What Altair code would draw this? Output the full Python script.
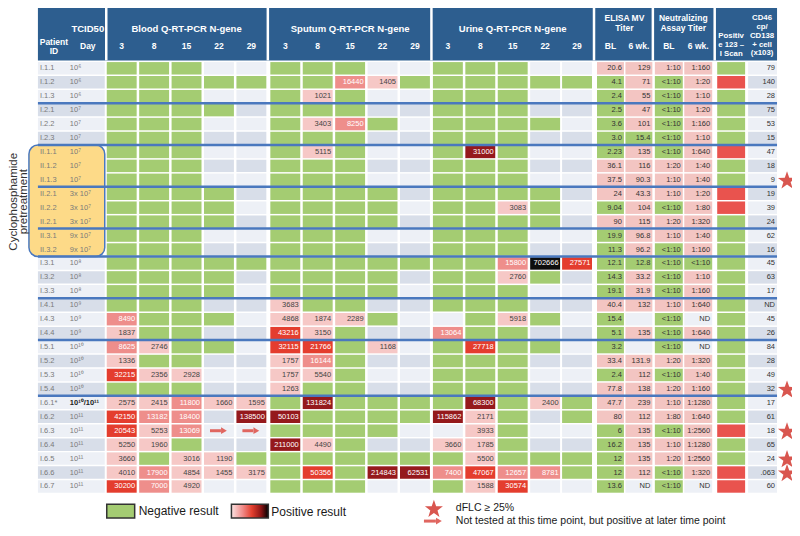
import altair as alt
import pandas as pd

G, E, A = "G", "", "A"   # negative (green), not tested, arrow (tested later)

patients = ["I.1.1", "I.1.2", "I.1.3", "I.2.1", "I.2.2", "I.2.3",
            "II.1.1", "II.1.2", "II.1.3", "II.2.1", "II.2.2", "II.2.1",
            "II.3.1", "II.3.2", "I.3.1", "I.3.2", "I.3.3", "I.4.1", "I.4.3",
            "I.4.4", "I.5.1", "I.5.2", "I.5.3", "I.5.4", "I.6.1*", "I.6.2",
            "I.6.3", "I.6.4", "I.6.5", "I.6.6", "I.6.7"]
doses = ["10⁶", "10⁶", "10⁶", "10⁷", "10⁷", "10⁷",
         "10⁷", "10⁷", "10⁷", "3x 10⁷", "3x 10⁷", "3x 10⁷",
         "9x 10⁷", "9x 10⁷", "10⁸", "10⁸", "10⁸", "10⁹", "10⁹",
         "10⁹", "10¹⁰", "10¹⁰", "10¹⁰", "10¹⁰", "10¹⁰/10¹¹", "10¹¹",
         "10¹¹", "10¹¹", "10¹¹", "10¹¹", "10¹¹"]
timepoints = ["3", "8", "15", "22", "29"]

blood = [
    [G, G, G, E, E], [G, G, G, G, G], [G, G, G, E, E], [G, G, G, G, E],
    [G, G, G, E, E], [G, G, G, E, E], [G, G, G, E, E], [G, G, G, E, E],
    [G, G, G, E, E], [G, G, G, G, E], [G, G, G, G, E], [G, G, G, G, E],
    [G, G, G, E, E], [G, G, G, E, E], [G, G, G, G, G], [G, G, G, G, E],
    [G, G, G, G, E], [G, G, G, E, E], ["8490", G, G, G, E],
    ["1837", G, G, E, E], ["8625", "2746", G, G, E], ["1336", G, G, E, E],
    ["32215", "2356", "2928", E, E], [G, G, G, E, E],
    ["2575", "2415", "11800", "1660", "1595"],
    ["42150", "13182", "18400", E, "138500"],
    ["20543", "5253", "13069", A, A], ["5250", "1960", G, E, E],
    ["3660", G, "3016", "1190", G], ["4010", "17900", "4854", "1455", "3175"],
    ["30200", "7000", "4920", E, E],
]
sputum = [
    [G, G, G, E, E], [G, G, "16440", "1405", G], [G, "1021", G, E, E],
    [G, G, G, E, E], [G, "3403", "8250", G, E], [G, G, G, E, E],
    [G, "5115", G, E, E], [G, G, G, E, E], [G, G, G, E, E], [G, G, G, G, E],
    [G, G, G, G, E], [G, G, G, G, E], [G, G, G, E, E], [G, G, G, E, E],
    [G, G, G, G, G], [G, G, G, G, E], [G, G, G, G, E], ["3683", G, G, E, E],
    ["4868", "1874", "2289", G, E], ["43216", "3150", G, E, E],
    ["32115", "21766", G, "1168", E], ["1757", "16144", G, E, E],
    ["1757", "5540", G, E, E], ["1263", G, G, E, E], [G, "131824", G, G, G],
    ["50103", G, G, G, G], [G, G, G, G, E], ["211000", "4490", G, E, E],
    [G, G, G, G, G], [G, "50356", G, "214843", "62531"], [G, G, G, E, E],
]
urine = [
    [G, G, G, E, E], [G, G, G, G, G], [G, G, G, E, E], [G, G, G, E, E],
    [G, G, G, G, E], [G, G, G, E, E], [G, "31000", G, E, E], [G, G, G, E, E],
    [G, G, G, E, E], [G, G, G, G, E], [G, G, "3083", G, E], [G, G, G, G, E],
    [G, G, G, E, E], [G, G, G, E, E], [G, G, "15800", "702666", "27571"],
    [G, G, "2760", G, E], [G, G, G, E, E], [G, G, G, E, E],
    [E, G, "5918", G, E], ["13064", G, G, E, E], [G, "27718", G, G, E],
    [G, G, G, E, E], [G, G, G, E, E], [G, G, G, E, E],
    [G, "68300", G, "2400", G], ["115862", "2171", G, E, G],
    [E, "3933", G, E, E], ["3660", "1785", G, E, E], [G, "5500", G, G, G],
    ["7400", "47067", "12657", "8781", G], [G, "1588", "30574", E, E],
]
elisa_bl = ["20.6", "4.1", "2.4", "2.5", "3.6", "3.0", "2.23", "36.1", "37.5",
            "24", "9.04", "90", "19.9", "11.3", "12.1", "14.3", "19.1", "40.4",
            "15.4", "5.1", "3.2", "33.4", "2.4", "77.8", "47.7", "80", "6",
            "16.2", "12", "12", "13.6"]
elisa_6wk = ["129", "71", "55", "47", "101", "15.4", "135", "116", "90.3",
             "43.3", "104", "115", "96.8", "96.2", "12.8", "33.2", "31.9",
             "132", "", "135", "", "131.9", "112", "138", "239", "112", "135",
             "135", "135", "112", "ND"]
neut_bl = ["1:10", "<1:10", "<1:10", "<1:10", "<1:10", "<1:10", "<1:10",
           "1:20", "1:10", "1:10", "<1:10", "1:20", "1:10", "<1:10", "<1:10",
           "<1:10", "<1:10", "1:10", "<1:10", "<1:10", "<1:10", "1:20",
           "<1:10", "1:20", "1:10", "1:80", "<1:10", "1:10", "1:20", "<1:10",
           "<1:10"]
neut_6wk = ["1:160", "1:20", "1:10", "1:20", "1:160", "1:10", "1:640", "1:40",
            "1:40", "1:20", "1:80", "1:320", "1:40", "1:160", "<1:10", "1:10",
            "1:160", "1:640", "ND", "1:640", "ND", "1:320", "1:40", "1:160",
            "1:1280", "1:640", "1:2560", "1:1280", "1:2560", "1:320", "ND"]
scan_positive = [0, 1, 0, 0, 0, 0, 1, 0, 0, 1, 1, 0, 0, 0, 0, 0, 0, 0, 0, 0,
                 0, 0, 0, 0, 0, 0, 1, 0, 0, 1, 1]
cd46 = ["79", "140", "28", "75", "53", "15", "47", "18", "9", "19", "39", "24",
        "62", "16", "45", "63", "17", "ND", "45", "26", "84", "28", "49", "32",
        "17", "61", "18", "65", "24", ".063", "60"]
dflc_rows = [8, 23, 26, 28, 29]
group_ends = [2, 5, 8, 11, 13, 16, 19, 23]
level_override = {"31000": 4, "50103": 4}

# ---------------- style / layout ----------------
FONT = "Liberation Sans"
HEAD = "#2D5E8F"
GREEN = "#A4CC72"
PINK = "#F3C5C2"
SHADE = ["#EDF0F6", "#D8DEE9"]
LEVEL = {1: "#F6C8C6", 2: "#EE8E8B", 3: "#E43D2E", 4: "#95191C", 5: "#0D0D0D"}
SCAN_RED = "#E9534E"
YELLOW = "#FDDA88"
BLUE = "#4A78BE"
STARC = "#D9564F"
STAR = ("M0,-1L0.235,-0.324L0.951,-0.309L0.38,0.124L0.588,0.809L0,0.4"
        "L-0.588,0.809L-0.38,0.124L-0.951,-0.309L-0.235,-0.324Z")

XS = alt.Scale(domain=[6, 792], nice=False, zero=False)
YS = alt.Scale(domain=[4, 530], nice=False, zero=False, reverse=True)
Y0, PITCH, CH = 65.0, 14.1, 12.6
BLOCKS = {"blood": [120, 152.5, 185, 217.5, 250],
          "sputum": [284, 316.5, 349, 381.5, 414],
          "urine": [447, 479.5, 512, 544.5, 576.5]}
CW = 30


def level(v):
    if v in level_override:
        return level_override[v]
    n = int(v)
    if n < 6500:
        return 1
    if n < 20000:
        return 2
    if n < 60000:
        return 3
    if n < 700000:
        return 4
    return 5


def isnum(v):
    try:
        float(v)
        return True
    except ValueError:
        return False


rects, ctext, ptext, arrows, stars = [], [], [], [], []


def rect(x1, x2, y1, y2, fill):
    rects.append(dict(x=x1, x2=x2, y=y1, y2=y2, fill=fill))


for i in range(len(patients)):
    yc = Y0 + i * PITCH
    y1, y2 = yc - CH / 2, yc + CH / 2
    shade = SHADE[i % 2]
    if not patients[i].startswith("II"):
        rect(36, 103, y1, y2, shade)
    ptext.append(dict(x=38, y=yc, t=patients[i]))
    if i != 24:
        ptext.append(dict(x=68, y=yc, t=doses[i]))
    for key, rows in (("blood", blood), ("sputum", sputum), ("urine", urine)):
        for j, v in enumerate(rows[i]):
            xc = BLOCKS[key][j]
            if v == G:
                fill = GREEN
            elif v in (E, A):
                fill = shade
                if v == A:
                    arrows.append(dict(x=xc - 9, x2=xc + 2, xt=xc + 5, y=yc))
            else:
                lv = level(v)
                fill = LEVEL[lv]
                ctext.append(dict(x=xc + CW / 2 - 1.5, y=yc, t=v,
                                  c="#444444" if lv == 1 else "#FFFFFF"))
            rect(xc - CW / 2, xc + CW / 2, y1, y2, fill)
    for xc, w, v in ((610, 27, elisa_bl[i]), (638.5, 27, elisa_6wk[i])):
        fill = (PINK if float(v) >= 20 else GREEN) if isnum(v) else shade
        rect(xc - w / 2, xc + w / 2, y1, y2, fill)
        ctext.append(dict(x=xc + w / 2 - 2, y=yc, t=v, c="#333333"))
    for xc, w, v in ((668.5, 28, neut_bl[i]), (698, 28, neut_6wk[i])):
        fill = GREEN if v == "<1:10" else (shade if v in ("ND", "") else PINK)
        rect(xc - w / 2, xc + w / 2, y1, y2, fill)
        ctext.append(dict(x=xc + w / 2 - 2, y=yc, t=v, c="#333333"))
    rect(717, 745, y1, y2, SCAN_RED if scan_positive[i] else GREEN)
    rect(748, 777, y1, y2, shade)
    ctext.append(dict(x=775, y=yc, t=cd46[i], c="#333333"))
    if i in dflc_rows:
        stars.append(dict(x=787, y=yc + 1))

# legend items
rects_df = pd.DataFrame(rects)
legend_box = pd.DataFrame([dict(x=105, x2=133, y=506, y2=520)])
grad_box = pd.DataFrame([dict(x=230, x2=267, y=506, y2=520)])
legend_txt = pd.DataFrame([
    dict(x=137, y=513, t="Negative result"),
    dict(x=270, y=514, t="Positive result"),
])
legend_txt2 = pd.DataFrame([
    dict(x=455, y=510, t="dFLC ≥ 25%"),
    dict(x=455, y=523, t="Not tested at this time point, but positive at later time point"),
])
stars.append(dict(x=433, y=511))
arrows.append(dict(x=423, x2=435, xt=438, y=523))

# header
head_rect = pd.DataFrame([dict(x=36, x2=777, y=4, y2=57)])
seps = pd.DataFrame([dict(x=v, y=4, y2=57) for v in [104.5, 266.5, 430.5, 593.5, 652.5, 714.5]])
head_titles = [dict(x=86, y=25, t="TCID50"),
               dict(x=185, y=25, t="Blood Q-RT-PCR N-gene"),
               dict(x=349, y=25, t="Sputum Q-RT-PCR N-gene"),
               dict(x=512, y=25, t="Urine Q-RT-PCR N-gene")]
head_mid = [dict(x=624, y=14, t="ELISA MV"), dict(x=624, y=24, t="Titer"),
            dict(x=683, y=14, t="Neutralizing"), dict(x=683, y=24, t="Assay Titer"),
            dict(x=52, y=38, t="Patient"), dict(x=52, y=47.5, t="ID"),
            dict(x=86, y=42, t="Day"),
            dict(x=610, y=42, t="BL"), dict(x=638.5, y=42, t="6 wk."),
            dict(x=668.5, y=42, t="BL"), dict(x=698, y=42, t="6 wk.")]
head_small = [dict(x=731, y=32.5, t="Positiv"), dict(x=731, y=41.5, t="e 123 –"),
              dict(x=731, y=50.5, t="I Scan"),
              dict(x=762, y=14, t="CD46"), dict(x=762, y=23, t="cp/"),
              dict(x=762, y=32, t="CD138"), dict(x=762, y=41, t="+ cell"),
              dict(x=762, y=50, t="(x103)")]
for key, xs in BLOCKS.items():
    for tp, xc in zip(timepoints, xs):
        head_mid.append(dict(x=xc, y=42, t=tp))

glines = pd.DataFrame([dict(x=36, x2=777, y=Y0 + (k + 0.5) * PITCH) for k in group_ends])
ybox = pd.DataFrame([dict(x=27, x2=103, y=Y0 + 5.5 * PITCH, y2=Y0 + 13.5 * PITCH)])
cyc_txt = pd.DataFrame([dict(x=12, y=200, t="Cyclophosphamide"),
                        dict(x=22.5, y=200, t="pretreatment")])
bold_dose = pd.DataFrame([dict(x=68, y=Y0 + 24 * PITCH, t=doses[24])])


def X(f="x"):
    return alt.X(f + ":Q", scale=XS, axis=None)


def Y(f="y"):
    return alt.Y(f + ":Q", scale=YS, axis=None)


def rect_layer(df, **kw):
    enc = dict(x=X(), x2="x2:Q", y=Y(), y2="y2:Q")
    if "fill" in df.columns:
        enc["fill"] = alt.Fill("fill:N", scale=None)
    return alt.Chart(df).mark_rect(**kw).encode(**enc)


def text_layer(df, color=None, **kw):
    enc = dict(x=X(), y=Y(), text="t:N")
    if color is None:
        enc["color"] = alt.Color("c:N", scale=None)
    m = dict(font=FONT, baseline="middle")
    m.update(kw)
    if color is not None:
        m["color"] = color
    return alt.Chart(df).mark_text(**m).encode(**enc)


layers = [
    rect_layer(head_rect, color=HEAD),
    alt.Chart(seps).mark_rule(color="white", strokeWidth=2.5).encode(x=X(), y=Y(), y2="y2:Q"),
    text_layer(pd.DataFrame(head_titles), color="white", fontWeight="bold", fontSize=9.5, align="center"),
    text_layer(pd.DataFrame(head_mid), color="white", fontWeight="bold", fontSize=8.5, align="center"),
    text_layer(pd.DataFrame(head_small), color="white", fontWeight="bold", fontSize=7.8, align="center"),
    rect_layer(ybox, color=YELLOW, cornerRadius=9),
    rect_layer(rects_df),
    text_layer(pd.DataFrame(ctext), fontSize=7.5, align="right"),
    text_layer(pd.DataFrame(ptext), color="#7A7A7A", fontSize=7.5, align="left"),
    text_layer(bold_dose, color="#222222", fontSize=7.5, align="left", fontWeight="bold"),
    alt.Chart(glines).mark_rule(color=BLUE, strokeWidth=2.5).encode(x=X(), x2="x2:Q", y=Y()),
    rect_layer(ybox, fillOpacity=0, stroke=BLUE, strokeWidth=1.5, cornerRadius=9),
    text_layer(cyc_txt, color="#333333", fontSize=11.5, align="center", angle=270),
    alt.Chart(pd.DataFrame(arrows)).mark_rule(color="#E06660", strokeWidth=3).encode(x=X(), x2="x2:Q", y=Y()),
    alt.Chart(pd.DataFrame(arrows)).mark_point(shape="triangle-right", filled=True, size=45,
                                               color="#E06660", opacity=1).encode(x=X("xt"), y=Y()),
    alt.Chart(pd.DataFrame(stars)).mark_point(shape=STAR, filled=True, size=360, color=STARC,
                                              opacity=1).encode(x=X(), y=Y()),
    rect_layer(legend_box, color=GREEN, stroke="#333333", strokeWidth=1.5),
    rect_layer(grad_box, stroke="#333333", strokeWidth=1.5,
               color=alt.LinearGradient(gradient="linear", x1=0, x2=1, y1=0, y2=0,
                                        stops=[alt.GradientStop(color="#FBE4E3", offset=0),
                                               alt.GradientStop(color="#F08C8A", offset=0.3),
                                               alt.GradientStop(color="#E4402F", offset=0.55),
                                               alt.GradientStop(color="#8E1515", offset=0.8),
                                               alt.GradientStop(color="#000000", offset=1)])),
    text_layer(legend_txt, color="#1A1A1A", fontSize=12, align="left"),
    text_layer(legend_txt2, color="#1A1A1A", fontSize=10.5, align="left"),
]

chart = alt.layer(*layers).properties(
    width=784, height=520, padding=0,
    autosize=alt.AutoSizeParams(type="none"),
).configure_view(stroke=None)

chart.save("out.html", embed_options={"renderer": "svg", "actions": False})
